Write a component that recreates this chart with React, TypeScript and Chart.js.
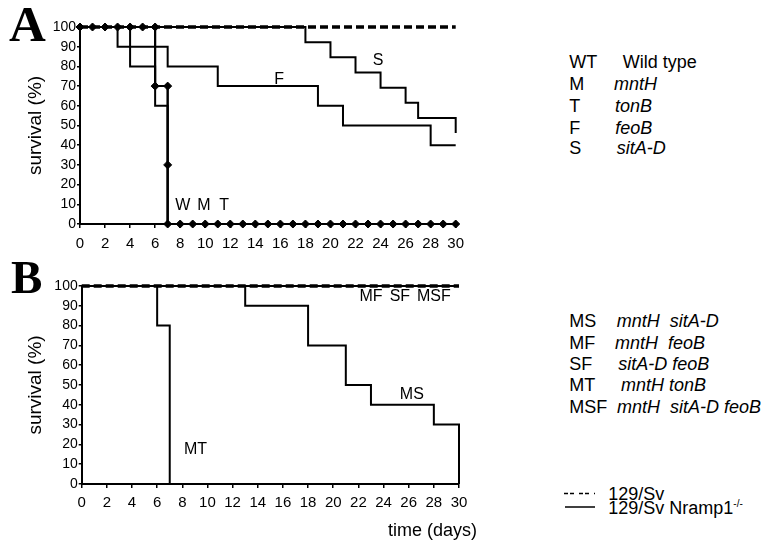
import React, { useEffect, useRef } from 'react';
import { Chart, registerables } from 'chart.js';

Chart.register(...registerables);

// ---------- Panel A data (survival %, by day) ----------
const ctrlDays = [0, 30];
const ctrlSurv = [100, 100];

const wtDays = [0, 1, 2, 3, 4, 5, 6, 6, 7, 7, 7, 8, 9, 10, 11, 12, 13, 14, 15, 16, 17, 18, 19, 20, 21, 22, 23, 24, 25, 26, 27, 28, 29, 30];
const wtSurv = [100, 100, 100, 100, 100, 100, 100, 70, 70, 30, 0, 0, 0, 0, 0, 0, 0, 0, 0, 0, 0, 0, 0, 0, 0, 0, 0, 0, 0, 0, 0, 0, 0, 0];

const mDays = [0, 4, 6, 7, 30];
const mSurv = [100, 80, 60, 0, 0];

const tDays = [0, 6, 7, 7, 30];
const tSurv = [100, 70, 70, 0, 0];

const fDays = [0, 3, 7, 11, 19, 21, 28, 30];
const fSurv = [100, 90, 80, 70, 60, 50, 40, 40];

const sDays = [0, 18, 20, 22, 24, 26, 27, 30, 30];
const sSurv = [100, 92.3, 84.6, 76.9, 69.2, 61.5, 53.8, 53.8, 46.2];

// ---------- Panel B data ----------
const msDays = [0, 13, 18, 21, 23, 28, 30, 30];
const msSurv = [100, 90, 70, 50, 40, 30, 30, 0];

const mfDays = [0, 30];
const mfSurv = [100, 100];
const sfDays = [0, 30];
const sfSurv = [100, 100];
const msfDays = [0, 30];
const msfSurv = [100, 100];

const mtDays = [0, 6, 7, 30];
const mtSurv = [100, 80, 0, 0];

// in-plot curve labels (data units)
const labelsA = [
  { text: 'S', x: 23.8, y: 82.8 },
  { text: 'F', x: 15.9, y: 73.3 },
  { text: 'W', x: 8.2, y: 9.4 },
  { text: 'M', x: 9.9, y: 9.4 },
  { text: 'T', x: 11.5, y: 9.4 },
];
const labelsB = [
  { text: 'MF', x: 23.0, y: 94.8 },
  { text: 'SF', x: 25.3, y: 94.8 },
  { text: 'MSF', x: 28.0, y: 94.8 },
  { text: 'MS', x: 26.25, y: 45.4 },
  { text: 'MT', x: 9.05, y: 17.2 },
];

const FONT = 'Arial, "Liberation Sans", sans-serif';

const pts = (d: number[], s: number[]) => d.map((x, i) => ({ x, y: s[i] }));

const solid = (label: string, d: number[], s: number[], extra: any = {}) => ({
  label,
  data: pts(d, s),
  borderColor: '#000',
  backgroundColor: '#000',
  borderWidth: 2,
  stepped: true,
  pointRadius: 0,
  clip: false,
  ...extra,
});

const dashed = (label: string, d: number[], s: number[]) => ({
  label,
  data: pts(d, s),
  borderColor: '#000',
  borderWidth: 3.5,
  borderDash: [8, 4],
  stepped: true,
  pointRadius: 0,
  clip: false,
});

const textLabelPlugin = {
  id: 'textLabels',
  afterDatasetsDraw(chart: any, _args: any, opts: any) {
    const { ctx, scales } = chart;
    ctx.save();
    ctx.font = `16px ${FONT}`;
    ctx.fillStyle = '#000';
    ctx.textAlign = 'center';
    ctx.textBaseline = 'middle';
    for (const l of opts.items || []) {
      ctx.fillText(l.text, scales.x.getPixelForValue(l.x), scales.y.getPixelForValue(l.y));
    }
    ctx.restore();
  },
};

function makeOptions(p: { yW: number; xH: number; top: number; right: number; tickPad: number; items: any[] }) {
  return {
    responsive: false,
    animation: false,
    layout: { padding: { top: p.top, right: p.right, left: 0, bottom: 0 } },
    plugins: {
      legend: { display: false },
      tooltip: { enabled: false },
      textLabels: { items: p.items },
    },
    scales: {
      x: {
        type: 'linear',
        min: 0,
        max: 30,
        afterFit: (s: any) => { s.height = p.xH; },
        ticks: { stepSize: 2, autoSkip: false, color: '#000', font: { family: FONT, size: 15 }, padding: p.tickPad, maxRotation: 0 },
        grid: { display: true, drawOnChartArea: false, drawTicks: true, tickLength: 4, color: '#000', lineWidth: 1.5 },
        border: { display: true, color: '#000', width: 2 },
      },
      y: {
        min: 0,
        max: 100,
        afterFit: (s: any) => { s.width = p.yW; },
        ticks: { stepSize: 10, autoSkip: false, color: '#000', font: { family: FONT, size: 14 }, padding: 1 },
        grid: { display: true, drawOnChartArea: false, drawTicks: true, tickLength: 3, color: '#000', lineWidth: 1.5 },
        border: { display: true, color: '#000', width: 2 },
        title: {
          display: true,
          text: 'survival (%)',
          color: '#000',
          font: { family: FONT, size: 19, lineHeight: 1.2 },
          padding: { top: 24.5, bottom: 0 },
        },
      },
    },
  } as any;
}

function PanelChart({ datasets, opts, top, height }: any) {
  const ref = useRef<HTMLCanvasElement>(null);
  useEffect(() => {
    const chart = new Chart(ref.current as HTMLCanvasElement, {
      type: 'line',
      data: { datasets },
      options: opts,
      plugins: [textLabelPlugin],
    } as any);
    return () => chart.destroy();
  }, []);
  return (
    <canvas
      ref={ref}
      width={540}
      height={height}
      style={{ position: 'absolute', left: 0, top, width: 540, height, display: 'block' }}
    />
  );
}

const legendA = [
  { code: 'WT', cy: 62.3, desc: 'Wild type', x: 622.7, it: false },
  { code: 'M', cy: 84.3, desc: 'mntH', x: 614, it: true },
  { code: 'T', cy: 106, desc: 'tonB', x: 615, it: true },
  { code: 'F', cy: 127.5, desc: 'feoB', x: 615.3, it: true },
  { code: 'S', cy: 148.3, desc: 'sitA-D', x: 616.7, it: true },
];
const legendB = [
  { code: 'MS', cy: 320.8, desc: 'mntH  sitA-D', x: 616.7, it: true },
  { code: 'MF', cy: 342.5, desc: 'mntH  feoB', x: 615, it: true },
  { code: 'SF', cy: 363.5, desc: 'sitA-D feoB', x: 618.3, it: true },
  { code: 'MT', cy: 385.2, desc: 'mntH tonB', x: 621, it: true },
  { code: 'MSF', cy: 406.8, desc: 'mntH  sitA-D feoB', x: 617, it: true },
];

const txt = (s: string, x: number, cy: number, size: number, italic = false, key?: any) => (
  <div
    key={key}
    style={{
      position: 'absolute',
      left: x,
      top: cy - 10,
      lineHeight: '20px',
      fontSize: size,
      fontFamily: FONT,
      fontStyle: italic ? 'italic' : 'normal',
      whiteSpace: 'pre',
      color: '#000',
    }}
  >
    {s}
  </div>
);

export default function App() {
  const dsA = [
    solid('S', sDays, sSurv),
    solid('F', fDays, fSurv),
    solid('M', mDays, mSurv),
    solid('T', tDays, tSurv),
    solid('WT', wtDays, wtSurv, { pointRadius: 4, pointStyle: 'rectRot', pointBorderWidth: 1 }),
    dashed('129/Sv', ctrlDays, ctrlSurv),
  ];
  const dsB = [
    solid('MS', msDays, msSurv),
    solid('MT', mtDays, mtSurv),
    solid('MF', mfDays, mfSurv),
    solid('SF', sfDays, sfSurv),
    solid('MSF', msfDays, msfSurv),
    dashed('129/Sv', ctrlDays, ctrlSurv),
  ];
  const optA = makeOptions({ yW: 80, xH: 31, top: 27, right: 84.3, tickPad: 7, items: labelsA });
  const optB = makeOptions({ yW: 81.7, xH: 41, top: 31, right: 81, tickPad: 6, items: labelsB });

  return (
    <div style={{ position: 'fixed', left: 0, top: 0, width: 765, height: 550, background: '#fff', overflow: 'hidden' }}>
      <PanelChart datasets={dsA} opts={optA} top={0} height={255} />
      <PanelChart datasets={dsB} opts={optB} top={255} height={270} />

      <div style={{ position: 'absolute', left: 9, top: -0.9, fontFamily: '"Liberation Serif", "Times New Roman", serif', fontWeight: 'bold', fontSize: 51, lineHeight: '51px' }}>A</div>
      <div style={{ position: 'absolute', left: 11, top: 253.7, fontFamily: '"Liberation Serif", "Times New Roman", serif', fontWeight: 'bold', fontSize: 47, lineHeight: '47px' }}>B</div>

      {legendA.map((r, i) => (
        <React.Fragment key={'a' + i}>
          {txt(r.code, 569.3, r.cy, 18)}
          {txt(r.desc, r.x, r.cy, 18, r.it)}
        </React.Fragment>
      ))}
      {legendB.map((r, i) => (
        <React.Fragment key={'b' + i}>
          {txt(r.code, 569.3, r.cy, 18)}
          {txt(r.desc, r.x, r.cy, 18, r.it)}
        </React.Fragment>
      ))}

      <svg width={40} height={30} style={{ position: 'absolute', left: 560, top: 485 }}>
        <line x1={4} y1={8.5} x2={35} y2={8.5} stroke="#000" strokeWidth={1.5} strokeDasharray="4 2 4 5" />
        <line x1={5} y1={22} x2={35} y2={22} stroke="#000" strokeWidth={1.5} />
      </svg>
      {txt('129/Sv', 608.3, 494, 18)}
      <div
        style={{
          position: 'absolute',
          left: 608.3,
          top: 497.5,
          lineHeight: '20px',
          fontSize: 18,
          fontFamily: FONT,
          whiteSpace: 'nowrap',
          color: '#000',
        }}
      >
        129/Sv Nramp1<sup style={{ fontSize: 10, verticalAlign: 'top', lineHeight: '10px', position: 'relative', top: 1 }}>-/-</sup>
      </div>

      {txt('time (days)', 388, 530, 18)}
    </div>
  );
}
